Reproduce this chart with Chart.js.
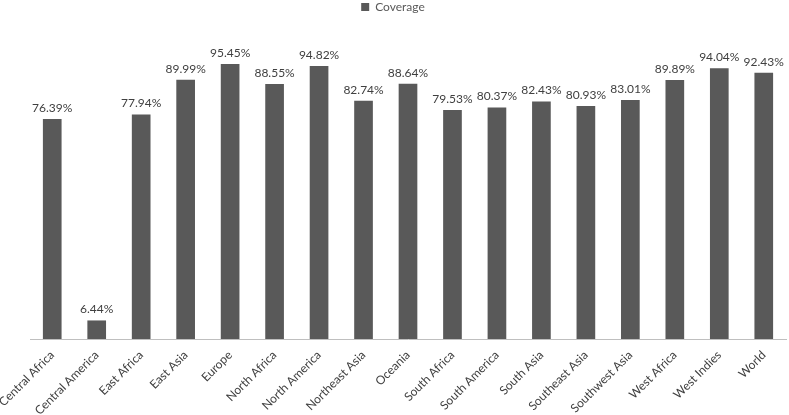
<!DOCTYPE html>
<html><head><meta charset="utf-8">
<script src="https://cdn.jsdelivr.net/npm/chart.js@4/dist/chart.umd.min.js"></script>
<style>html,body{margin:0;padding:0;background:#fff}#wrap{width:789px;height:415px}</style>
</head><body><div id="wrap"><canvas id="c" width="789" height="415"></canvas></div>
<script>
const categories = ["Central Africa","Central America","East Africa","East Asia","Europe","North Africa","North America","Northeast Asia","Oceania","South Africa","South America","South Asia","Southeast Asia","Southwest Asia","West Africa","West Indies","World"];
const coverage = [76.39,6.44,77.94,89.99,95.45,88.55,94.82,82.74,88.64,79.53,80.37,82.43,80.93,83.01,89.89,94.04,92.43];
const seriesName = "Coverage";

const FONT = "Lato, 'Open Sans', sans-serif";
const legendHeight = {
  id: 'legendHeight',
  beforeInit(chart) {
    const orig = chart.legend.fit;
    chart.legend.fit = function() { orig.call(this); this.height = 51; };
  }
};
const valueLabels = {
  id: 'valueLabels',
  afterDatasetsDraw(chart) {
    const ctx = chart.ctx;
    const meta = chart.getDatasetMeta(0);
    ctx.save();
    ctx.font = "12px " + FONT;
    ctx.fillStyle = "#404040";
    ctx.textAlign = "center";
    ctx.textBaseline = "bottom";
    meta.data.forEach((bar, i) => {
      ctx.fillText(coverage[i].toFixed(2) + "%", bar.x, bar.y - 5);
    });
    ctx.restore();
  }
};
new Chart(document.getElementById('c'), {
  type: 'bar',
  data: { labels: categories, datasets: [{ label: seriesName, data: coverage, backgroundColor: '#595959', borderWidth: 0, barPercentage: 0.42, categoryPercentage: 1 }] },
  options: {
    responsive: false, animation: false, devicePixelRatio: 1,
    layout: { padding: { left: 0, right: 3, top: 0, bottom: 0 } },
    plugins: {
      legend: { position: 'top', labels: { boxWidth: 8, boxHeight: 8, padding: 1, color: '#595959', font: { family: FONT, size: 12 } } },
      tooltip: { enabled: false }
    },
    scales: {
      y: { display: false, min: 0, max: 100 },
      x: {
        grid: { display: false, drawTicks: false },
        border: { display: true, color: '#bfbfbf', width: 1 },
        ticks: { maxRotation: 45, minRotation: 45, autoSkip: false, color: '#404040', padding: 9, font: { family: FONT, size: 12 } },
        afterFit(scale) { scale.height = 76; scale.paddingLeft = 30; }
      }
    }
  },
  plugins: [legendHeight, valueLabels]
});
</script></body></html>
